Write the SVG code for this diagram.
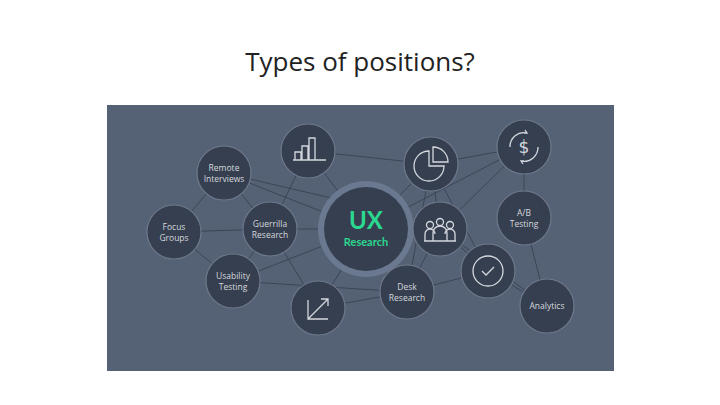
<svg xmlns="http://www.w3.org/2000/svg" width="720" height="405" viewBox="0 0 720 405">
<style>
.n{fill:#363f4f;stroke:#6d788a;stroke-width:1.2}
.t{font-family:"Open Sans","Liberation Sans",sans-serif;font-size:8.5px;fill:#d4d8de;text-anchor:middle}
.ic{fill:none;stroke:#d4d8de;stroke-width:1.3}
#edges line{stroke:#3c4555;stroke-width:1}
</style>
<rect width="720" height="405" fill="#fff"/>
<text x="360" y="71" font-family="Open Sans,Liberation Sans,sans-serif" font-size="26" fill="#222" text-anchor="middle">Types of positions?</text>
<rect x="107" y="105" width="507" height="266" fill="#556276"/>
<g id="edges">
<line x1="224" y1="173" x2="174" y2="232"/><line x1="224" y1="173" x2="270" y2="229"/><line x1="224" y1="173" x2="366" y2="229"/><line x1="224" y1="173" x2="340" y2="200"/>
<line x1="174" y1="232" x2="270" y2="229"/><line x1="174" y1="232" x2="233" y2="281"/><line x1="270" y1="229" x2="233" y2="281"/>
<line x1="270" y1="229" x2="308" y2="151"/><line x1="308" y1="151" x2="366" y2="229"/><line x1="308" y1="151" x2="431" y2="164"/>
<line x1="270" y1="229" x2="366" y2="229"/><line x1="233" y1="281" x2="366" y2="229"/><line x1="233" y1="281" x2="407" y2="292"/>
<line x1="270" y1="229" x2="318" y2="308"/><line x1="318" y1="308" x2="366" y2="229"/><line x1="318" y1="308" x2="407" y2="292"/>
<line x1="431" y1="164" x2="366" y2="229"/><line x1="431" y1="164" x2="524" y2="147"/><line x1="366" y1="229" x2="524" y2="147"/>
<line x1="431" y1="164" x2="440" y2="229"/><line x1="431" y1="164" x2="407" y2="292"/><line x1="431" y1="164" x2="488" y2="271"/>
<line x1="440" y1="229" x2="524" y2="147"/><line x1="524" y1="147" x2="524" y2="218"/><line x1="524" y1="218" x2="547" y2="306"/>
<line x1="440" y1="229" x2="488" y2="271"/><line x1="440" y1="229" x2="407" y2="292"/><line x1="488" y1="271" x2="407" y2="292"/>
<line x1="488" y1="271" x2="547" y2="306"/><line x1="440" y1="229" x2="547" y2="306"/><line x1="366" y1="229" x2="440" y2="229"/>
<line x1="366" y1="229" x2="407" y2="292"/>
</g>
<g id="bar"><circle class="n" cx="308" cy="151" r="27"/><path class="ic" d="M293 160H326M295 160V152H301V160M302 160V146H308V160M309 160V138H315V160"/></g>
<g id="remote"><circle class="n" cx="224" cy="173" r="27"/><text class="t" x="224" y="171">Remote</text><text class="t" x="224" y="182">Interviews</text></g>
<g id="focus"><circle class="n" cx="174" cy="232" r="27"/><text class="t" x="174" y="230">Focus</text><text class="t" x="174" y="241">Groups</text></g>
<g id="guerrilla"><circle class="n" cx="270" cy="229" r="27"/><text class="t" x="270" y="227">Guerrilla</text><text class="t" x="270" y="238">Research</text></g>
<g id="usability"><circle class="n" cx="233" cy="281" r="27"/><text class="t" x="233" y="279">Usability</text><text class="t" x="233" y="290">Testing</text></g>
<g id="growth"><circle class="n" cx="318" cy="308" r="27"/><path class="ic" d="M308 300V319H328M308 319L328 299M321 299H328V306"/></g>
<g id="ux"><circle cx="366" cy="229" r="48" fill="#6a7890"/><circle cx="366" cy="229" r="42" fill="#363f4f"/>
<text x="366" y="229" font-family="Lato,Liberation Sans,sans-serif" font-weight="bold" font-size="24" fill="#2bd88f" text-anchor="middle">UX</text>
<text x="366" y="246" font-family="Lato,Liberation Sans,sans-serif" font-weight="bold" font-size="11" fill="#2bd88f" text-anchor="middle">Research</text></g>
<g id="pie"><circle class="n" cx="431" cy="164" r="27"/><path class="ic" d="M429 151A15 15 0 1 0 444 166H429Z M433 147A15 15 0 0 1 448 162H433Z"/></g>
<g id="dollar"><circle class="n" cx="524" cy="147" r="27"/><path class="ic" d="M510 147A14 14 0 0 1 527 133M538 147A14 14 0 0 1 521 161M524 133L527 133L525 130M524 161L521 161L523 164"/><text x="524" y="153" font-family="DejaVu Sans,sans-serif" font-size="17" fill="#d4d8de" text-anchor="middle">$</text></g>
<g id="people"><circle class="n" cx="440" cy="229" r="27"/><path class="ic" d="M425 241V234A5 5 0 0 1 435 234M445 234A5 5 0 0 1 455 234V241M424 241H456M433 241V233A7 7 0 0 1 447 233V241"/><circle class="ic" cx="430" cy="225" r="3.5"/><circle class="ic" cx="440" cy="222" r="3.5"/><circle class="ic" cx="450" cy="225" r="3.5"/></g>
<g id="ab"><circle class="n" cx="524" cy="218" r="27"/><text class="t" x="524" y="216">A/B</text><text class="t" x="524" y="227">Testing</text></g>
<g id="check"><circle class="n" cx="488" cy="271" r="27"/><circle class="ic" cx="488" cy="271" r="15"/><path class="ic" d="M482 271L486 275L494 267"/></g>
<g id="desk"><circle class="n" cx="407" cy="292" r="27"/><text class="t" x="407" y="290">Desk</text><text class="t" x="407" y="301">Research</text></g>
<g id="analytics"><circle class="n" cx="547" cy="306" r="27"/><text class="t" x="547" y="309">Analytics</text></g>
</svg>
